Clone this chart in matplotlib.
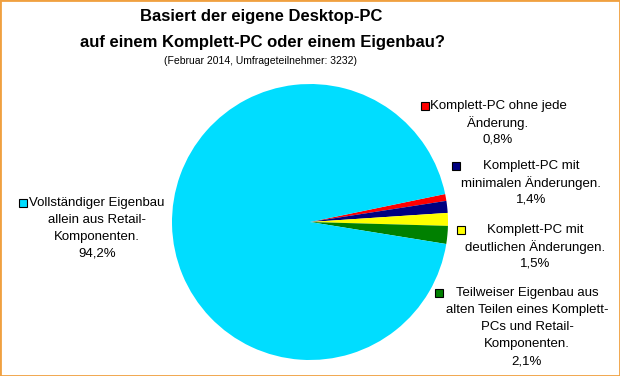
import matplotlib.pyplot as plt
from matplotlib.patches import Rectangle

plt.rcParams['font.family'] = ['Liberation Sans', 'DejaVu Sans']

# data
labels = ["Komplett-PC ohne jede\nÄnderung.",
          "Komplett-PC mit\nminimalen Änderungen.",
          "Komplett-PC mit\ndeutlichen Änderungen.",
          "Teilweiser Eigenbau aus\nalten Teilen eines Komplett-\nPCs und Retail-\nKomponenten.",
          "Vollständiger Eigenbau\nallein aus Retail-\nKomponenten."]
values = [0.8, 1.4, 1.5, 2.1, 94.2]
colors = ["#FF0000", "#000080", "#FFFF00", "#008000", "#00DDFF"]

W, H = 620, 376
fig = plt.figure(figsize=(W / 100, H / 100), dpi=100)

def fx(x):
    return x / W

def fy(y):
    return 1 - y / H

# pie: centre (310, 222), radius 138 px
cx, cy, r = 310, 222, 138
ax = fig.add_axes([fx(cx - r), fy(cy + r), 2 * r / W, 2 * r / H])
ax.pie(values, colors=colors, startangle=11.7, counterclock=False,
       wedgeprops=dict(linewidth=0))
ax.set_xlim(-1, 1)
ax.set_ylim(-1, 1)

# title
fig.text(fx(261), fy(17), "Basiert der eigene Desktop-PC", ha="center", va="center",
         fontsize=12, fontweight="bold")
fig.text(fx(262), fy(42), "auf einem Komplett-PC oder einem Eigenbau?", ha="center",
         va="center", fontsize=12, fontweight="bold")
fig.text(fx(261), fy(61), "(Februar 2014, Umfrageteilnehmer: 3232)", ha="center",
         va="center", fontsize=7.5)

# labels: text centre x, first line y, marker x
label_pos = [(498, 106, 425), (531, 166, 456), (535, 230, 461), (527, 293, 439), (97, 203, 23)]
for lab, v, c, (tx, ty, mx) in zip(labels, values, colors, label_pos):
    lines = lab.split("\n") + ["%s%%" % str(v).replace(".", ",")]
    for i, line in enumerate(lines):
        fig.text(fx(tx), fy(ty + 17 * i), line, ha="center", va="center", fontsize=9.5)
    fig.patches.append(Rectangle((fx(mx - 4), fy(ty + 4)), 8 / W, 8 / H,
                                 transform=fig.transFigure, facecolor=c,
                                 edgecolor="black", linewidth=0.8))

fig.patches.append(Rectangle((0, 0), 1, 1, transform=fig.transFigure, fill=False,
                             edgecolor="#F0A040", linewidth=2))

fig.savefig("out.png", dpi=100)
